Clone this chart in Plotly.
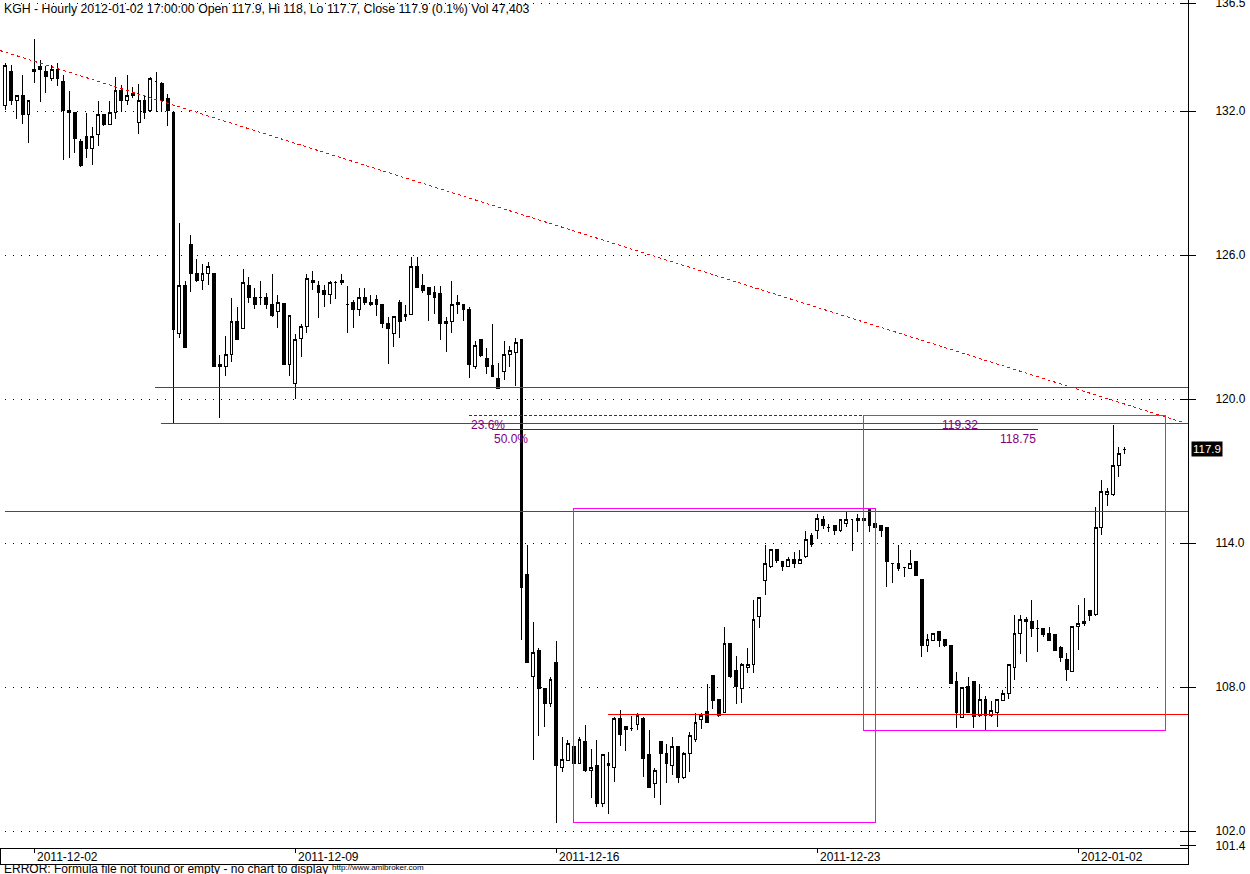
import plotly.graph_objects as go

# ---------------- data ----------------
opens = [132.24, 133.65, 132.43, 132.65, 131.85, 133.74, 133.86, 133.65, 133.35, 133.74,
         133.24, 131.95, 131.95, 130.75, 130.94, 130.45, 131.03, 131.86, 131.45, 131.95,
         132.86, 132.45, 132.65, 131.53, 132.45, 132.03, 133.22, 133.15, 132.53, 131.95,
         122.74, 124.74, 126.44, 125.24, 124.93, 125.24, 125.24, 121.35, 121.35, 121.86,
         123.25, 122.94, 124.74, 124.24, 124.24, 124.24, 123.94, 123.64, 123.96, 121.44,
         120.65, 122.53, 123.03, 124.94, 124.74, 124.54, 124.35, 124.86, 124.85, 123.94,
         124.04, 123.72, 124.24, 124.04, 124.14, 123.94, 123.15, 122.74, 124.04, 123.43,
         123.53, 125.53, 124.74, 124.65, 124.44, 124.38, 123.15, 123.22, 124.04, 123.94,
         123.75, 121.35, 122.46, 121.67, 121.38, 120.86, 121.14, 121.85, 121.94, 122.46,
         112.67, 108.43, 109.54, 107.94, 107.32, 109.04, 104.65, 104.93, 105.54, 104.82,
         105.75, 104.51, 104.75, 103.15, 104.74, 104.65, 106.67, 106.35, 106.28, 106.44,
         106.67, 105.17, 103.96, 105.75, 105.24, 104.75, 105.54, 104.24, 105.24, 105.82,
         106.65, 106.96, 108.46, 107.46, 106.95, 109.82, 108.67, 107.93, 108.82, 108.94,
         110.93, 112.44, 113.01, 113.74, 113.24, 113.01, 113.32, 113.15, 113.43, 114.33,
         114.51, 114.96, 114.65, 114.75, 114.51, 114.82, 114.96, 114.93, 115.03, 115.40,
         114.82, 114.75, 114.65, 113.15, 113.15, 112.97, 112.94, 113.24, 112.46, 109.72,
         109.93, 110.33, 109.96, 109.75, 108.22, 106.74, 108.04, 108.25, 106.83, 107.46,
         106.83, 106.93, 107.43, 107.74, 108.82, 110.24, 110.82, 110.75, 110.44, 110.44,
         110.24, 110.17, 109.65, 109.15, 108.64, 110.51, 110.65, 111.17, 111.03, 114.65,
         116.01, 116.01, 117.24, 117.90]
highs = [134.01, 133.92, 132.65, 133.50, 132.45, 135.00, 134.13, 133.88, 133.93, 133.99,
         133.50, 132.83, 131.95, 130.85, 131.93, 131.32, 132.42, 131.86, 132.42, 133.43,
         133.08, 133.50, 132.99, 133.11, 132.67, 133.43, 133.63, 133.21, 132.71, 131.95,
         127.35, 124.93, 126.83, 125.83, 125.61, 125.69, 125.24, 121.83, 122.63, 124.22,
         123.85, 125.42, 125.10, 124.64, 124.93, 124.40, 125.21, 124.33, 123.99, 123.46,
         122.71, 123.13, 125.21, 125.33, 124.90, 124.74, 124.90, 124.90, 125.21, 124.71,
         124.13, 124.63, 124.63, 124.33, 124.33, 123.94, 123.43, 123.44, 124.13, 123.93,
         125.93, 125.93, 125.22, 124.65, 124.71, 124.71, 123.43, 124.92, 124.33, 123.94,
         123.85, 122.42, 122.50, 122.13, 123.13, 121.51, 122.42, 122.21, 122.55, 122.49,
         113.92, 110.72, 109.61, 107.94, 108.43, 109.92, 105.93, 105.79, 105.54, 105.93,
         106.42, 105.40, 105.79, 105.17, 105.30, 106.76, 107.04, 106.35, 106.79, 106.93,
         106.76, 106.21, 104.61, 105.75, 105.63, 105.93, 105.54, 105.30, 106.14, 106.93,
         106.90, 108.13, 108.46, 107.46, 110.51, 109.82, 109.29, 108.99, 109.61, 111.63,
         111.74, 113.92, 113.74, 113.74, 113.26, 113.40, 113.63, 113.71, 114.50, 114.43,
         115.21, 115.13, 114.79, 114.75, 114.96, 115.30, 114.96, 115.21, 115.03, 115.40,
         114.82, 114.75, 114.65, 113.15, 113.92, 112.97, 113.71, 113.24, 112.46, 110.19,
         110.24, 110.33, 109.96, 109.75, 108.61, 107.97, 108.43, 108.25, 108.13, 107.63,
         107.42, 107.46, 107.88, 108.94, 111.00, 111.00, 110.93, 111.63, 110.79, 110.44,
         110.51, 110.17, 109.71, 109.40, 110.51, 111.42, 111.71, 111.17, 115.49, 116.63,
         116.29, 118.92, 118.01, 118.00]
lows = [132.04, 132.26, 131.68, 131.46, 130.68, 133.18, 132.39, 132.76, 133.26, 133.04,
        129.96, 130.05, 130.26, 129.68, 130.05, 129.76, 130.54, 131.39, 131.45, 131.68,
        131.97, 132.24, 132.55, 131.05, 131.68, 131.97, 131.97, 131.97, 131.39, 118.99,
        122.56, 122.15, 124.47, 124.86, 124.54, 124.75, 121.35, 119.19, 120.97, 121.55,
        122.46, 122.94, 123.99, 123.74, 123.92, 123.74, 123.43, 122.97, 121.44, 120.97,
        119.99, 121.76, 122.76, 124.54, 123.39, 123.85, 123.97, 124.18, 124.75, 122.76,
        122.96, 123.46, 123.93, 123.88, 123.46, 122.96, 121.47, 122.18, 122.56, 123.25,
        123.53, 124.64, 124.43, 123.25, 123.54, 122.47, 121.97, 122.76, 123.54, 123.25,
        120.89, 121.25, 121.76, 121.06, 120.93, 120.44, 120.78, 121.35, 120.54, 109.96,
        109.03, 104.96, 105.97, 106.35, 107.18, 102.35, 104.47, 104.93, 104.82, 104.82,
        104.47, 103.36, 102.99, 102.99, 102.69, 104.05, 105.54, 105.35, 106.18, 106.21,
        104.26, 103.78, 103.36, 103.08, 103.99, 104.33, 103.99, 104.15, 104.44, 105.72,
        106.26, 106.51, 107.07, 106.76, 106.90, 108.36, 107.29, 107.35, 108.57, 108.57,
        110.47, 111.83, 112.94, 113.18, 112.85, 113.01, 112.97, 113.15, 113.36, 113.85,
        114.17, 114.57, 114.47, 114.35, 114.47, 114.68, 113.68, 114.47, 114.93, 114.47,
        114.64, 114.26, 112.18, 112.35, 112.85, 112.60, 112.94, 112.64, 109.26, 109.47,
        109.93, 109.68, 109.68, 108.15, 106.28, 106.69, 106.93, 106.28, 106.76, 106.18,
        106.76, 106.35, 107.43, 107.49, 108.29, 109.38, 109.05, 110.07, 109.47, 110.07,
        109.93, 109.51, 109.05, 108.26, 108.64, 109.54, 110.54, 110.76, 110.97, 114.33,
        115.54, 115.97, 116.76, 117.70]
closes = [133.88, 132.43, 132.65, 131.85, 132.45, 133.64, 133.74, 133.43, 133.74, 133.35,
          132.03, 132.04, 130.85, 129.72, 130.45, 130.94, 131.86, 131.45, 131.95, 132.86,
          132.45, 132.64, 132.75, 132.45, 131.95, 133.36, 133.22, 132.43, 132.03, 122.88,
          124.74, 122.15, 125.24, 124.93, 125.24, 125.53, 121.35, 121.44, 121.86, 123.25,
          122.46, 124.86, 124.22, 123.92, 124.24, 123.92, 123.50, 124.03, 121.44, 123.46,
          122.46, 123.03, 125.03, 124.85, 124.43, 124.35, 124.86, 124.86, 124.94, 123.94,
          123.72, 124.24, 124.01, 123.93, 123.93, 123.14, 122.93, 123.44, 123.22, 123.53,
          125.53, 124.64, 124.51, 124.35, 124.22, 123.14, 123.25, 123.94, 123.93, 123.72,
          121.42, 122.24, 121.83, 121.35, 120.93, 120.44, 121.86, 122.03, 122.36, 112.15,
          109.03, 109.44, 107.94, 107.32, 108.33, 104.72, 104.96, 105.65, 104.82, 105.82,
          104.51, 104.65, 103.15, 105.17, 104.82, 106.67, 106.03, 106.25, 106.28, 106.80,
          105.03, 103.82, 104.54, 105.24, 104.82, 105.54, 104.24, 105.24, 105.96, 106.53,
          106.82, 106.51, 107.43, 106.82, 109.82, 108.43, 108.01, 108.94, 108.94, 110.83,
          111.74, 113.15, 113.74, 113.29, 113.01, 113.32, 113.15, 113.32, 114.15, 113.93,
          115.03, 114.72, 114.65, 114.51, 114.96, 114.96, 114.96, 115.03, 114.93, 114.72,
          114.64, 114.51, 113.22, 113.15, 112.93, 112.97, 113.15, 112.64, 109.72, 109.96,
          110.24, 109.93, 109.72, 108.15, 106.93, 107.97, 106.93, 106.76, 107.46, 106.83,
          107.01, 107.46, 107.74, 108.94, 110.24, 110.82, 110.72, 110.43, 110.44, 110.17,
          109.93, 109.51, 109.24, 108.74, 110.51, 110.65, 110.74, 111.00, 114.65, 116.15,
          116.15, 117.24, 117.74, 117.90]
bar_index = list(range(len(opens)))

date_labels = ["2011-12-02", "2011-12-09", "2011-12-16", "2011-12-23", "2012-01-02"]
date_bars = [5, 50, 95, 140, 185]

price_ticks = [102.0, 108.0, 114.0, 120.0, 126.0, 132.0, 136.5]
bottom_tick = 101.4
last_price = 117.9

# horizontal study lines: level and bar where they begin
hline_levels = [120.5, 119.0, 115.33, 106.875]
hline_start_bars = [25.8, 26.9, 0.0, 103.9]

# trend line end points
trend_bars = [-0.91, 203.93]
trend_prices = [134.52, 118.96]

# fibonacci levels
fib_levels = [119.32, 118.75]
fib_percent = ["23.6%", "50.0%"]
fib_start_bars = [80.0, 84.0]
fib_end_bars = [148.0, 178.0]
fib_value_end_bars = [168.1, 178.0]

# rectangles: bar from, bar to, low price, high price
box_bars = [(98.0, 150.0), (148.0, 200.0)]
box_prices = [(102.375, 115.42), (106.17, 119.32)]

title_text = ("KGH - Hourly 2012-01-02 17:00:00 Open 117.9, Hi 118, Lo 117.7, "
              "Close 117.9 (0.1%) Vol 47,403")

# ---------------- figure ----------------
W, H = 1250, 874
ML, MR, MT, MB = 0, 62, 0, 26
PW, PH = W - ML - MR, H - MT - MB
X_RANGE = [-0.91, 203.93]
Y_RANGE = [101.2917, 136.625]
FONT = "Liberation Sans, Arial, sans-serif"


def px_x(p):
    return p / PW


def px_y(p):
    return (PH - p) / PH


fig = go.Figure()
fig.add_trace(go.Candlestick(
    x=bar_index, open=opens, high=highs, low=lows, close=closes,
    increasing=dict(line=dict(color="black", width=1), fillcolor="white"),
    decreasing=dict(line=dict(color="black", width=1), fillcolor="black"),
    whiskerwidth=0, showlegend=False, hoverinfo="skip",
))

shapes = []
# dotted grid
for lv in price_ticks:
    shapes.append(dict(type="line", xref="paper", yref="y", x0=px_x(5), x1=px_x(1182),
                       y0=lv, y1=lv, layer="below",
                       line=dict(color="black", width=1, dash="1px,7px")))
# inner halves of the right axis tick marks
for lv in price_ticks + [bottom_tick]:
    shapes.append(dict(type="line", xref="paper", yref="y", x0=px_x(PW - 8), x1=1,
                       y0=lv, y1=lv, line=dict(color="black", width=1)))
# red horizontal study lines
for lv, sb in zip(hline_levels, hline_start_bars):
    shapes.append(dict(type="line", xref="x", yref="y", x0=sb, x1=X_RANGE[1],
                       y0=lv, y1=lv, line=dict(color="#FF0000", width=1)))
# trend line
shapes.append(dict(type="line", xref="x", yref="y", x0=trend_bars[0], x1=trend_bars[1],
                   y0=trend_prices[0], y1=trend_prices[1],
                   line=dict(color="#FF0000", width=1, dash="3px,3px")))
# fibonacci lines
shapes.append(dict(type="line", xref="x", yref="y", x0=fib_start_bars[0], x1=fib_end_bars[0],
                   y0=fib_levels[0], y1=fib_levels[0],
                   line=dict(color="#800080", width=1, dash="3px,2px")))
shapes.append(dict(type="line", xref="x", yref="y", x0=fib_start_bars[1], x1=fib_end_bars[1],
                   y0=fib_levels[1], y1=fib_levels[1],
                   line=dict(color="#800080", width=1)))
# rectangles
for (b0, b1), (p0, p1) in zip(box_bars, box_prices):
    shapes.append(dict(type="rect", xref="x", yref="y", x0=b0, x1=b1, y0=p0, y1=p1,
                       line=dict(color="#FF00FF", width=1), fillcolor="rgba(0,0,0,0)"))
# date strip frame
strip_bottom = px_y(PH + 16.5)
shapes.append(dict(type="line", xref="paper", yref="paper", x0=0, x1=1,
                   y0=strip_bottom, y1=strip_bottom, line=dict(color="black", width=1)))
for xp in (0, 1):
    shapes.append(dict(type="line", xref="paper", yref="paper", x0=xp, x1=xp,
                       y0=0, y1=strip_bottom, line=dict(color="black", width=1)))

annotations = []
annotations.append(dict(text=title_text, xref="paper", yref="paper", x=px_x(2), y=px_y(9),
                        xanchor="left", yanchor="middle", showarrow=False,
                        font=dict(family=FONT, size=12.3, color="black")))
for lbl, b in zip(date_labels, date_bars):
    annotations.append(dict(text=lbl, xref="x", yref="paper", x=b, y=px_y(856.5),
                            xanchor="left", yanchor="middle", xshift=1, showarrow=False,
                            font=dict(family=FONT, size=12, color="black")))
annotations.append(dict(text=f"{last_price:.1f}", xref="paper", yref="y", x=1, y=last_price,
                        xanchor="left", yanchor="middle", xshift=3, showarrow=False,
                        bgcolor="black", borderpad=1,
                        font=dict(family=FONT, size=11.5, color="white")))
for lv, pct, sb, vb in zip(fib_levels, fib_percent, fib_start_bars, fib_value_end_bars):
    annotations.append(dict(text=pct, xref="x", yref="y", x=sb, y=lv, xanchor="left",
                            yanchor="top", yshift=-1, showarrow=False,
                            font=dict(family=FONT, size=12, color="#800080")))
    annotations.append(dict(text=f"{lv:.2f}", xref="x", yref="y", x=vb, y=lv, xanchor="right",
                            yanchor="top", yshift=-1, showarrow=False,
                            font=dict(family=FONT, size=12, color="#800080")))
annotations.append(dict(text="ERROR: Formula file not found or empty - no chart to display",
                        xref="paper", yref="paper", x=px_x(2), y=px_y(868.5),
                        xanchor="left", yanchor="middle", showarrow=False,
                        font=dict(family=FONT, size=12, color="black")))
annotations.append(dict(text="http://www.amibroker.com", xref="paper", yref="paper",
                        x=px_x(330), y=px_y(867), xanchor="left", yanchor="middle",
                        showarrow=False, font=dict(family=FONT, size=8, color="black")))

tick_vals = price_ticks + [bottom_tick]
tick_text = [f"{v:.1f}" for v in tick_vals]

fig.update_layout(
    width=W, height=H, margin=dict(l=ML, r=MR, t=MT, b=MB, autoexpand=False),
    paper_bgcolor="white", plot_bgcolor="white",
    showlegend=False, hovermode=False,
    shapes=shapes, annotations=annotations,
    xaxis=dict(range=X_RANGE, showgrid=False, zeroline=False, showline=True,
               linecolor="black", linewidth=1, mirror=True, ticks="outside",
               tickvals=date_bars, ticklen=4, tickcolor="black", showticklabels=False,
               rangeslider=dict(visible=False), fixedrange=True, automargin=False),
    yaxis=dict(range=Y_RANGE, side="right", showgrid=False, zeroline=False,
               showline=True, linecolor="black", linewidth=1, mirror=True,
               ticks="outside", ticklen=7, tickcolor="black",
               tickvals=tick_vals, ticktext=tick_text, ticklabelstandoff=17,
               ticklabeloverflow="allow", automargin=False,
               tickfont=dict(family=FONT, size=12, color="black"), fixedrange=True),
)

fig.write_html(
    "out.html",
    config={"displayModeBar": False},
    post_script=(
        "document.body.style.margin='0';document.body.style.padding='0';"
        "var st=document.createElement('style');"
        "st.textContent='.main-svg path{shape-rendering:crispEdges;}';"
        "document.head.appendChild(st);"
    ),
)
